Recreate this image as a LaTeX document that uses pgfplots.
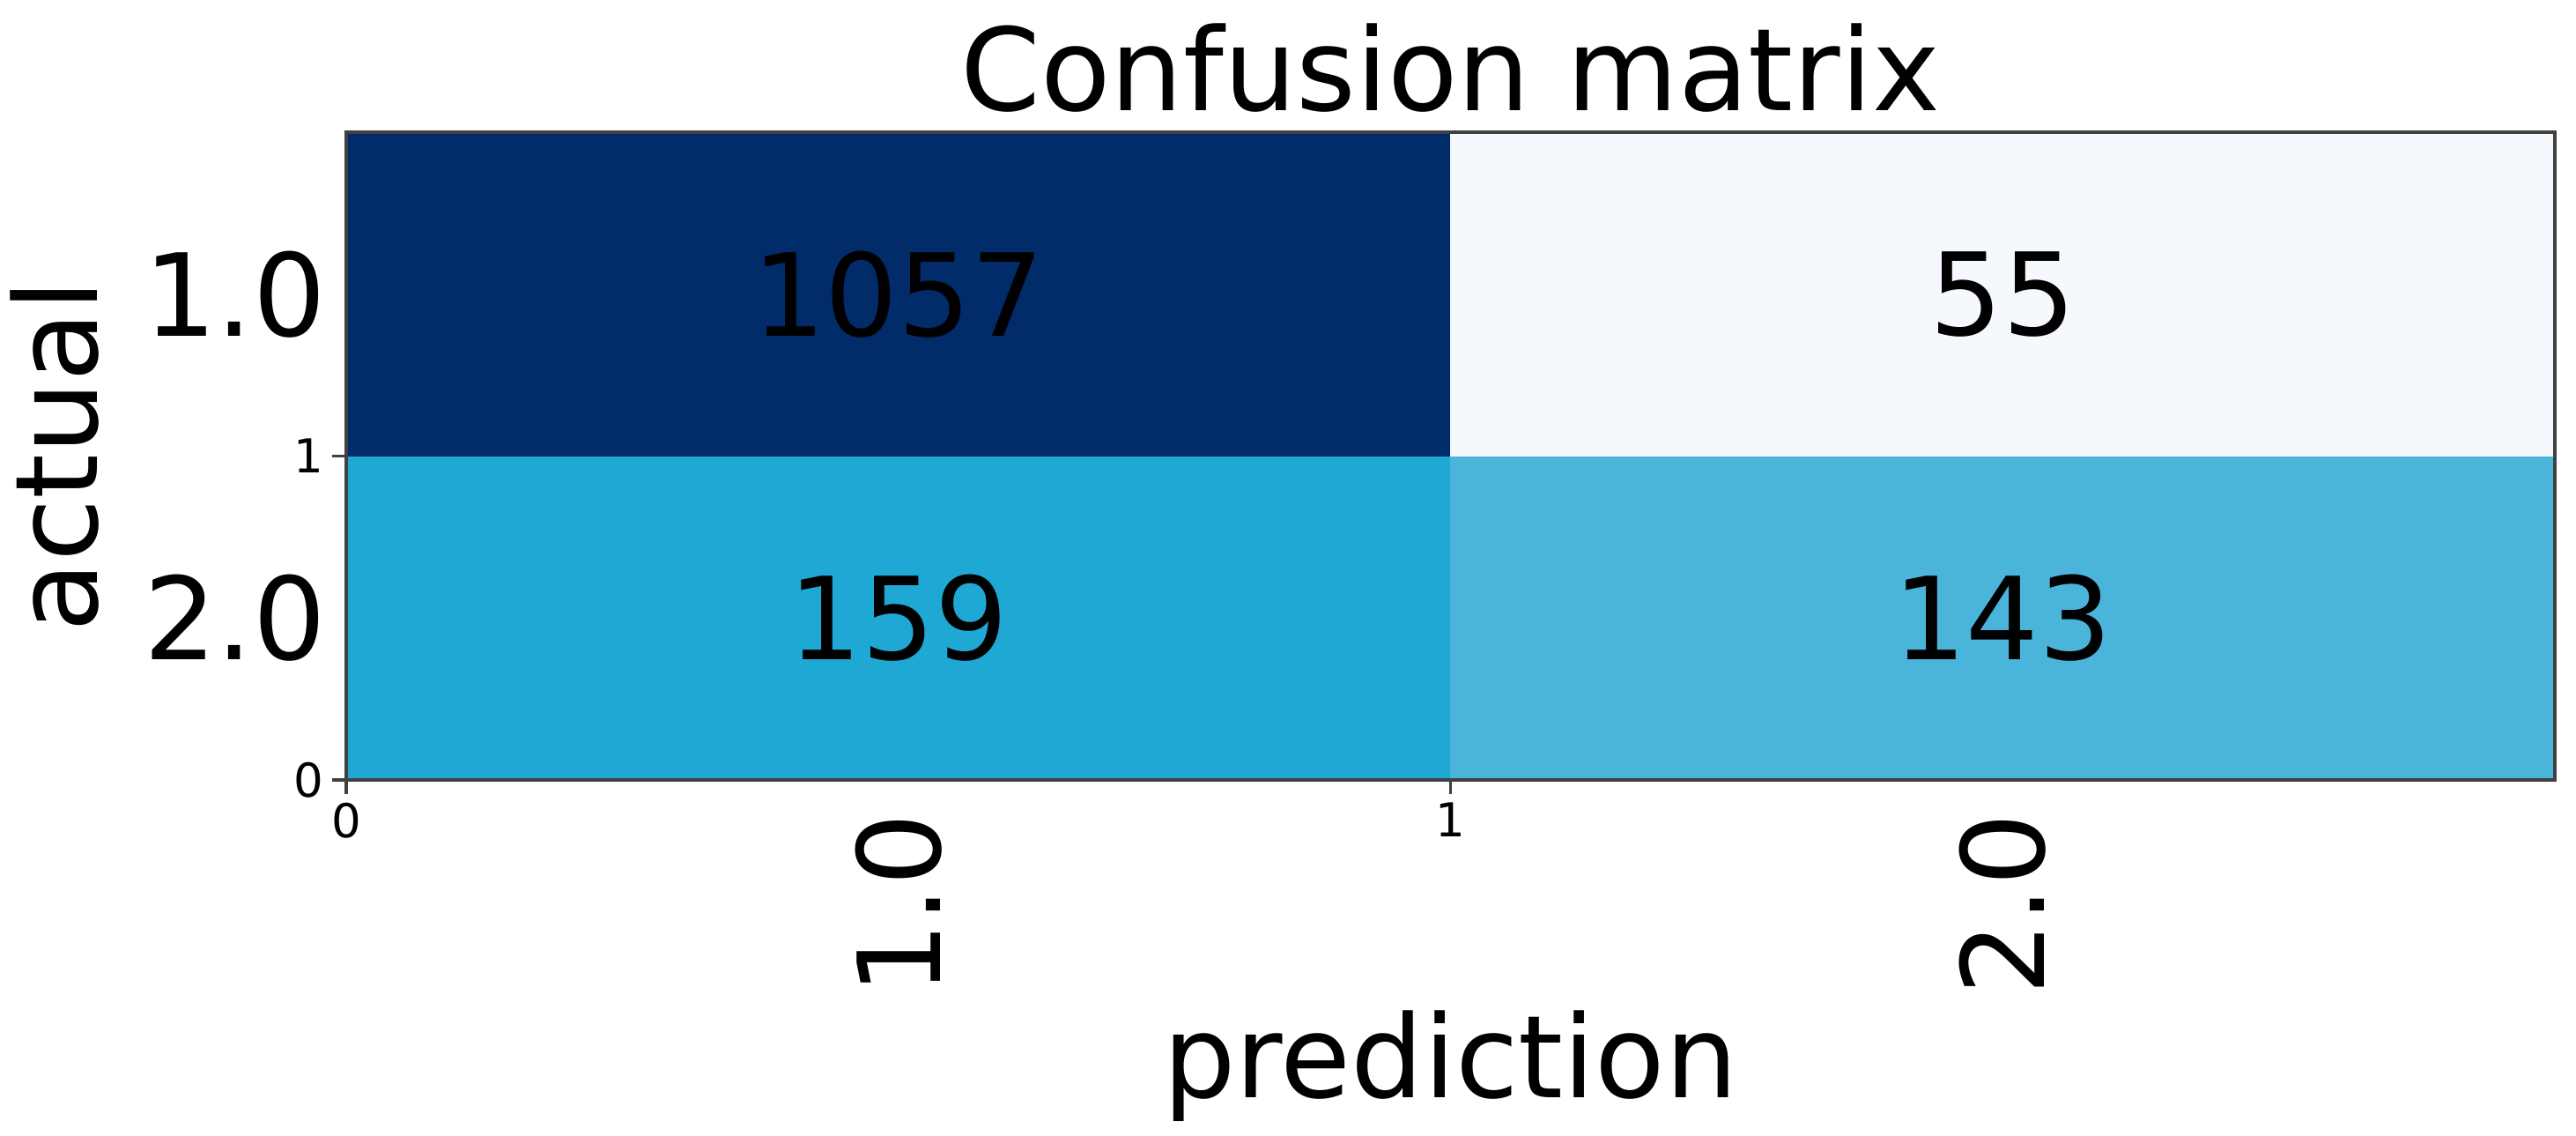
\documentclass[border=0pt]{standalone}
\usepackage{pgfplots}
\pgfplotsset{compat=1.18}
\usepackage{fontspec}
\setmainfont{DejaVu Sans}
\definecolor{c11}{RGB}{2,43,106}
\definecolor{c12}{RGB}{245,249,254}
\definecolor{c21}{RGB}{32,168,213}
\definecolor{c22}{RGB}{75,180,219}
\newcommand{\bigf}{\fontsize{13}{15}\selectfont}
\begin{document}
\begin{tikzpicture}
\begin{axis}[name=ax, scale only axis, width=250.7pt, height=73.5pt,
  xmin=0, xmax=2, ymin=0, ymax=2,
  axis on top,
  axis line style={line width=0.45pt, black!75},
  tick align=outside, tick pos=left,
  major tick length=1.6pt,
  every tick/.style={black!75, line width=0.35pt},
  xtick={0,1}, ytick={0,1}, xticklabels={0,1}, yticklabels={0,1},
  tick label style={font=\fontsize{5.3}{6}\selectfont, inner sep=0.8pt},
  /pgf/number format/assume math mode=true,
  extra x ticks={0.5,1.5}, extra x tick labels={1.0,2.0},
  extra x tick style={major tick length=0pt, xticklabel style={rotate=90, anchor=east, font=\bigf, inner sep=0pt}, xticklabel shift=3.6pt},
  extra y ticks={0.5,1.5}, extra y tick labels={2.0,1.0},
  extra y tick style={major tick length=0pt, yticklabel style={anchor=east, font=\bigf, inner sep=0pt}, yticklabel shift=2.1pt},
  title={Confusion matrix},
  every axis title/.style={at={(0.5,1)}, anchor=base, yshift=2.5pt, font=\bigf, inner sep=0pt},
  xlabel={prediction},
  xlabel style={at={(axis description cs:0.5,0)}, anchor=base, yshift=-36pt, font=\bigf, inner sep=0pt},
  ylabel={actual},
  ylabel style={at={(axis description cs:-0.1125,0.5)}, anchor=base, font=\bigf, inner sep=0pt},
]
\addplot[fill=c11, draw=none] coordinates {(0,1) (1,1) (1,2) (0,2)} -- cycle;
\addplot[fill=c12, draw=none] coordinates {(1,1) (2,1) (2,2) (1,2)} -- cycle;
\addplot[fill=c21, draw=none] coordinates {(0,0) (1,0) (1,1) (0,1)} -- cycle;
\addplot[fill=c22, draw=none] coordinates {(1,0) (2,0) (2,1) (1,1)} -- cycle;
\node[font=\bigf] at (axis cs:0.5,1.5) {1057};
\node[font=\bigf] at (axis cs:1.5,1.5) {55};
\node[font=\bigf] at (axis cs:0.5,0.5) {159};
\node[font=\bigf] at (axis cs:1.5,0.5) {143};
\end{axis}
\path ([shift={(-39.3pt,-40.3pt)}]ax.south west) rectangle ([shift={(2.4pt,15pt)}]ax.north east);
\end{tikzpicture}
\end{document}
